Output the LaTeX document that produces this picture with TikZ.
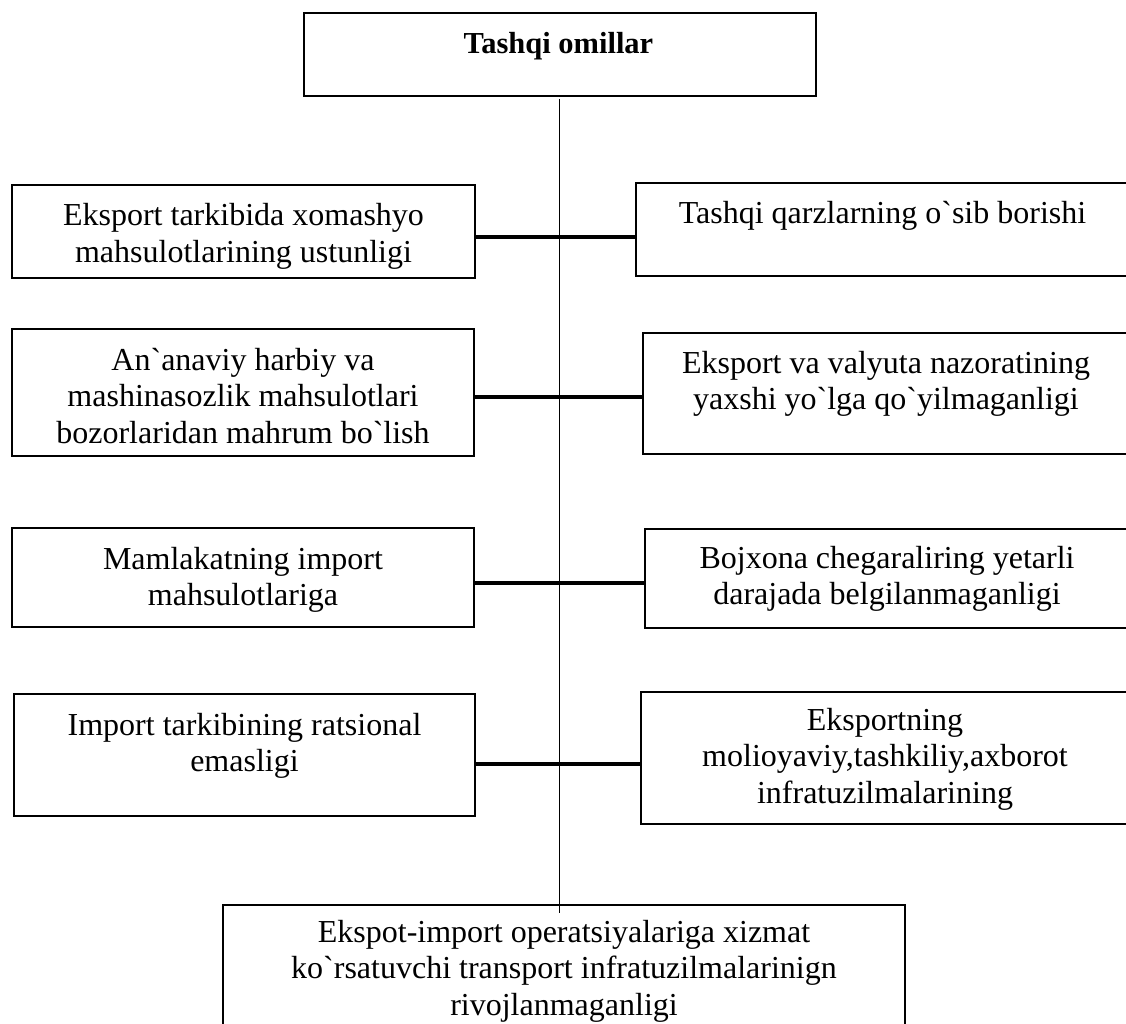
\documentclass[tikz,border=0pt]{standalone}
\usepackage{fontspec}
\setmainfont{Liberation Serif}[Ligatures=TeXOff]
\newcommand\boxtext[1]{\parbox[t]{720pt}{\centering #1}}
\begin{document}
\begin{tikzpicture}[x=1pt,y=-1pt,
  box/.style={draw, line width=2.2pt, inner sep=0pt},
  lbl/.style={anchor=base, inner sep=0pt, font=\fontsize{32}{36.5}\selectfont},
  ttl/.style={anchor=base, inner sep=0pt, font=\fontsize{30.5}{36}\selectfont\bfseries},
  link/.style={line width=3.3pt},
  spine/.style={line width=1pt}]
\useasboundingbox (0,0) rectangle (1126,1024);
\clip (0,0) rectangle (1126,1024);

% boxes
\node[box, minimum width=512pt, minimum height=83pt]  (top) at (560,54.5) {};
\node[box, minimum width=463pt, minimum height=93pt]  (l1)  at (243.5,231.5) {};
\node[box, minimum width=493pt, minimum height=93pt]  (r1)  at (882.5,229.5) {};
\node[box, minimum width=462pt, minimum height=127pt] (l2)  at (243,392.5) {};
\node[box, minimum width=486pt, minimum height=121pt] (r2)  at (886,393.5) {};
\node[box, minimum width=462pt, minimum height=99pt]  (l3)  at (243,577.5) {};
\node[box, minimum width=484pt, minimum height=99pt]  (r3)  at (887,578.5) {};
\node[box, minimum width=461pt, minimum height=122pt] (l4)  at (244.5,755) {};
\node[box, minimum width=488pt, minimum height=132pt] (r4)  at (885,758) {};
\node[box, minimum width=682pt, minimum height=140pt] (bot) at (564,975) {};

% texts
\node[ttl] (ttop) at (558.5,54) {Tashqi omillar};
\node[lbl] (tl1) at (243.5,226) {\boxtext{Eksport tarkibida xomashyo\\mahsulotlarining ustunligi}};
\node[lbl] (tr1) at (882.5,224) {\boxtext{Tashqi qarzlarning o`sib borishi}};
\node[lbl] (tl2) at (243,370) {\boxtext{An`anaviy harbiy va\\mashinasozlik mahsulotlari\\bozorlaridan mahrum bo`lish}};
\node[lbl] (tr2) at (886,373) {\boxtext{Eksport va valyuta nazoratining\\yaxshi yo`lga qo`yilmaganligi}};
\node[lbl] (tl3) at (243,569) {\boxtext{Mamlakatning import\\mahsulotlariga}};
\node[lbl] (tr3) at (887,568) {\boxtext{Bojxona chegaraliring yetarli\\darajada belgilanmaganligi}};
\node[lbl] (tl4) at (244.5,735) {\boxtext{Import tarkibining ratsional\\emasligi}};
\node[lbl] (tr4) at (885,730) {\boxtext{Eksportning\\molioyaviy,tashkiliy,axborot\\infratuzilmalarining}};
\node[lbl] (tbot) at (564,942) {\boxtext{Ekspot-import operatsiyalariga xizmat\\ko`rsatuvchi transport infratuzilmalarinign\\rivojlanmaganligi}};

% spine
\coordinate (s1) at (559,99);
\coordinate (s2) at (559,913);
\draw[spine] (s1) -- (s2);

% links
\draw[link] (l1.east |- 0,237) -- (r1.west |- 0,237);
\draw[link] (l2.east |- 0,397) -- (r2.west |- 0,397);
\draw[link] (l3.east |- 0,583) -- (r3.west |- 0,583);
\draw[link] (l4.east |- 0,764) -- (r4.west |- 0,764);
\end{tikzpicture}
\end{document}
